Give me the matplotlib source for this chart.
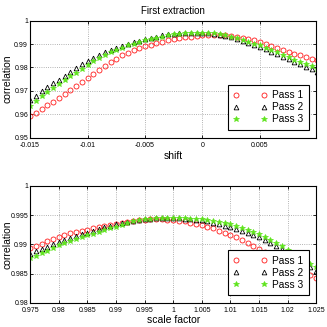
import numpy as np
import matplotlib.pyplot as plt

plt.rcParams['font.family'] = ['Liberation Sans', 'DejaVu Sans']

# shift scan (top panel)
shift = np.round(np.arange(51) * 0.0005 - 0.015, 5)
shift_p1 = [0.9593, 0.9607, 0.9622, 0.9638, 0.9654, 0.9670, 0.9687, 0.9704, 0.9721, 0.9738,
            0.9755, 0.9772, 0.9789, 0.9806, 0.9822, 0.9837, 0.9851, 0.9863, 0.9873, 0.9882,
            0.9890, 0.9897, 0.9904, 0.9910, 0.9916, 0.9921, 0.9925, 0.9929, 0.9932, 0.9935,
            0.9937, 0.9939, 0.9940, 0.9939, 0.9938, 0.9935, 0.9932, 0.9927, 0.9921, 0.9916,
            0.9910, 0.9902, 0.9893, 0.9884, 0.9875, 0.9866, 0.9858, 0.9851, 0.9844, 0.9837,
            0.9831]
shift_p2 = [0.9659, 0.9679, 0.9698, 0.9716, 0.9732, 0.9748, 0.9764, 0.9780, 0.9797, 0.9813,
            0.9828, 0.9842, 0.9855, 0.9866, 0.9876, 0.9885, 0.9893, 0.9901, 0.9908, 0.9915,
            0.9921, 0.9927, 0.9932, 0.9937, 0.9941, 0.9944, 0.9946, 0.9948, 0.9949, 0.9949,
            0.9948, 0.9946, 0.9943, 0.9939, 0.9934, 0.9928, 0.9921, 0.9913, 0.9905, 0.9896,
            0.9887, 0.9877, 0.9866, 0.9856, 0.9845, 0.9834, 0.9824, 0.9813, 0.9803, 0.9792,
            0.9782]
shift_p3 = [0.9634, 0.9656, 0.9677, 0.9696, 0.9714, 0.9731, 0.9747, 0.9762, 0.9778, 0.9795,
            0.9812, 0.9828, 0.9842, 0.9855, 0.9866, 0.9876, 0.9885, 0.9894, 0.9902, 0.9909,
            0.9916, 0.9922, 0.9927, 0.9932, 0.9937, 0.9941, 0.9944, 0.9946, 0.9948, 0.9948,
            0.9948, 0.9947, 0.9945, 0.9942, 0.9937, 0.9932, 0.9925, 0.9918, 0.9910, 0.9902,
            0.9894, 0.9884, 0.9874, 0.9864, 0.9853, 0.9843, 0.9833, 0.9824, 0.9814, 0.9805,
            0.9795]

# scale scan (bottom panel)
scale = np.round(np.arange(51) * 0.001 + 0.975, 4)
scale_p1 = [0.9893, 0.9897, 0.9901, 0.9905, 0.9909, 0.9913, 0.9916, 0.9919, 0.9921, 0.9923,
            0.9925, 0.9927, 0.9929, 0.9931, 0.9933, 0.9935, 0.9937, 0.9938, 0.9940, 0.9941,
            0.9942, 0.9943, 0.9943, 0.9943, 0.9942, 0.9941, 0.9940, 0.9939, 0.9937, 0.9935,
            0.9933, 0.9930, 0.9927, 0.9923, 0.9920, 0.9916, 0.9912, 0.9907, 0.9902, 0.9897,
            0.9892, 0.9887, 0.9882, 0.9876, 0.9871, 0.9866, 0.9861, 0.9856, 0.9852, 0.9847,
            0.9842]
scale_p2 = [0.9884, 0.9888, 0.9892, 0.9896, 0.9900, 0.9904, 0.9907, 0.9911, 0.9914, 0.9917,
            0.9920, 0.9923, 0.9926, 0.9929, 0.9932, 0.9934, 0.9936, 0.9938, 0.9940, 0.9942,
            0.9943, 0.9944, 0.9945, 0.9945, 0.9945, 0.9945, 0.9945, 0.9944, 0.9943, 0.9942,
            0.9941, 0.9939, 0.9937, 0.9934, 0.9932, 0.9929, 0.9926, 0.9923, 0.9920, 0.9916,
            0.9912, 0.9907, 0.9902, 0.9897, 0.9892, 0.9886, 0.9880, 0.9874, 0.9868, 0.9861,
            0.9855]
scale_p3 = [0.9876, 0.9880, 0.9885, 0.9889, 0.9894, 0.9898, 0.9902, 0.9905, 0.9909, 0.9912,
            0.9915, 0.9918, 0.9921, 0.9924, 0.9927, 0.9930, 0.9933, 0.9936, 0.9939, 0.9941,
            0.9943, 0.9944, 0.9945, 0.9945, 0.9945, 0.9945, 0.9945, 0.9945, 0.9944, 0.9944,
            0.9943, 0.9941, 0.9940, 0.9938, 0.9936, 0.9934, 0.9931, 0.9928, 0.9925, 0.9921,
            0.9917, 0.9912, 0.9907, 0.9902, 0.9897, 0.9891, 0.9885, 0.9879, 0.9873, 0.9867,
            0.9861]

labels = ['Pass 1', 'Pass 2', 'Pass 3']
shift_ticks = [-0.015, -0.01, -0.005, 0, 0.005]
shift_ticklabels = ['-0.015', '-0.01', '-0.005', '0', '0.005']
corr_ticks_top = [0.95, 0.96, 0.97, 0.98, 0.99, 1.0]
corr_ticklabels_top = ['0.95', '0.96', '0.97', '0.98', '0.99', '1']
scale_ticks = [0.975, 0.98, 0.985, 0.99, 0.995, 1.0, 1.005, 1.01, 1.015, 1.02, 1.025]
scale_ticklabels = ['0.975', '0.98', '0.985', '0.99', '0.995', '1', '1.005', '1.01',
                    '1.015', '1.02', '1.025']
corr_ticks_bot = [0.98, 0.985, 0.99, 0.995, 1.0]
corr_ticklabels_bot = ['0.98', '0.985', '0.99', '0.995', '1']

red = '#ff1a1a'
green = '#5ee41c'

fig = plt.figure(figsize=(3.27, 3.27), dpi=100)
ax1 = fig.add_axes([0.092, 0.579, 0.875, 0.358])
ax2 = fig.add_axes([0.092, 0.074, 0.875, 0.358])


def draw(ax, x, s1, s2, s3):
    ax.plot(x, s1, 'o', ms=3.6, mfc='none', mec=red, mew=0.6, label=labels[0])
    ax.plot(x, s2, '^', ms=3.4, mfc='none', mec='k', mew=0.6, label=labels[1])
    ax.plot(x, s3, '*', ms=3.8, mfc=green, mec=green, mew=0.5, label=labels[2])
    ax.grid(True, ls=':', color='#999999', lw=0.6)
    ax.tick_params(direction='in', top=True, right=True, labelsize=5, length=2.5,
                   width=0.6, pad=1.5)
    ax.tick_params(axis='x', pad=3)
    for sp in ax.spines.values():
        sp.set_linewidth(0.8)
    leg = ax.legend(loc='lower right', numpoints=2, handlelength=3.3, fontsize=7.3,
                    fancybox=False, framealpha=1, edgecolor='k', borderaxespad=0.75,
                    labelspacing=0.2, handletextpad=0.5, borderpad=0.55)
    leg.get_frame().set_linewidth(0.8)
    ax.yaxis.set_label_coords(-0.063, 0.5)


draw(ax1, shift, shift_p1, shift_p2, shift_p3)
ax1.set_xlim(-0.015, 0.0099)
ax1.set_ylim(0.95, 1.0)
ax1.set_xticks(shift_ticks, shift_ticklabels)
ax1.set_yticks(corr_ticks_top, corr_ticklabels_top)
ax1.set_xlabel('shift', fontsize=7.5, labelpad=1.5)
ax1.set_ylabel('correlation', fontsize=7.5)
ax1.set_title('First extraction', fontsize=7, pad=5)

draw(ax2, scale, scale_p1, scale_p2, scale_p3)
ax2.set_xlim(0.975, 1.025)
ax2.set_ylim(0.98, 1.0)
ax2.set_xticks(scale_ticks, scale_ticklabels)
ax2.set_yticks(corr_ticks_bot, corr_ticklabels_bot)
ax2.set_xlabel('scale factor', fontsize=7.5, labelpad=1)
ax2.set_ylabel('correlation', fontsize=7.5)

fig.savefig('out.png', dpi=100)
